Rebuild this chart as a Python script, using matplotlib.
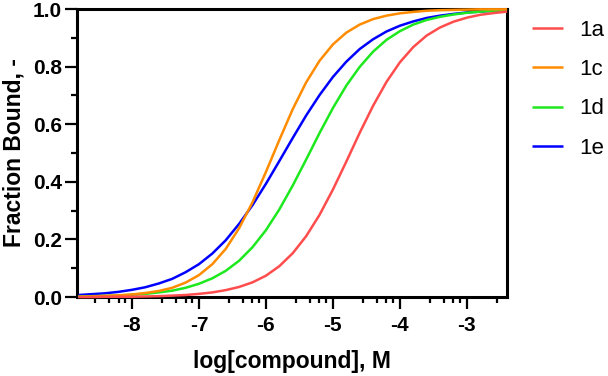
import numpy as np
import matplotlib
matplotlib.use("Agg")
import matplotlib.pyplot as plt
from matplotlib.ticker import FixedLocator

# log[compound] grid the curves were read at
log_conc = [-8.8, -8.6, -8.4, -8.2, -8.0, -7.8, -7.6, -7.4, -7.2, -7.0, -6.8,
            -6.6, -6.4, -6.2, -6.0, -5.8, -5.6, -5.4, -5.2, -5.0, -4.8, -4.6,
            -4.4, -4.2, -4.0, -3.8, -3.6, -3.4, -3.2, -3.0, -2.8, -2.6, -2.4]

# fraction bound
bound_1a = [0.000, 0.000, 0.001, 0.001, 0.001, 0.002, 0.003, 0.005, 0.007, 0.011, 0.016,
            0.024, 0.035, 0.051, 0.074, 0.107, 0.152, 0.211, 0.285, 0.373, 0.470, 0.570,
            0.664, 0.747, 0.815, 0.868, 0.908, 0.936, 0.956, 0.970, 0.980, 0.986, 0.991]
bound_1c = [0.001, 0.002, 0.004, 0.006, 0.009, 0.014, 0.021, 0.032, 0.050, 0.076, 0.114,
            0.167, 0.239, 0.329, 0.434, 0.545, 0.652, 0.745, 0.820, 0.877, 0.918, 0.946,
            0.965, 0.977, 0.985, 0.990, 0.994, 0.996, 0.997, 0.998, 0.999, 0.999, 0.999]
bound_1d = [0.002, 0.003, 0.004, 0.005, 0.008, 0.011, 0.016, 0.022, 0.032, 0.046, 0.065,
            0.091, 0.126, 0.173, 0.232, 0.304, 0.387, 0.477, 0.569, 0.656, 0.734, 0.799,
            0.852, 0.893, 0.923, 0.946, 0.962, 0.973, 0.981, 0.987, 0.991, 0.994, 0.996]
bound_1e = [0.007, 0.010, 0.013, 0.018, 0.025, 0.034, 0.047, 0.063, 0.086, 0.114, 0.151,
            0.197, 0.254, 0.319, 0.393, 0.472, 0.552, 0.630, 0.701, 0.764, 0.817, 0.861,
            0.895, 0.922, 0.942, 0.957, 0.969, 0.977, 0.983, 0.988, 0.991, 0.994, 0.995]

labels = ["1a", "1c", "1d", "1e"]
colors = ["#FF4D4D", "#FF8C00", "#1EE81E", "#0000FF"]
series = [bound_1a, bound_1c, bound_1d, bound_1e]

x_major = [-8, -7, -6, -5, -4, -3]
y_major = [0.0, 0.2, 0.4, 0.6, 0.8, 1.0]

plt.rcParams["font.family"] = ["Liberation Sans", "DejaVu Sans"]

fig = plt.figure(figsize=(6.08, 3.76), dpi=100)
ax = fig.add_axes([0.1266, 0.210, 0.7074, 0.766])

handles = []
# draw last series first so red ends on top, like the original
for i in range(len(series) - 1, -1, -1):
    h, = ax.plot(log_conc, series[i], color=colors[i], lw=1.8, zorder=3,
                 clip_on=False, solid_capstyle="butt")
    handles.append(h)
handles = handles[::-1]

ax.set_xlim(-8.82, -2.4)
ax.set_ylim(0, 1.0)

ax.set_xticks(x_major)
ax.set_xticklabels([str(v) for v in x_major])
minor_x = []
for d in range(-9, -2):
    for f in [0.45, 0.66, 0.80, 0.90]:
        if -8.82 < d + f < -2.4:
            minor_x.append(d + f)
ax.xaxis.set_minor_locator(FixedLocator(minor_x))
ax.set_yticks(y_major)
ax.set_yticklabels(["%.1f" % v for v in y_major])
ax.yaxis.set_minor_locator(FixedLocator([0.1, 0.3, 0.5, 0.7, 0.9]))

for s in ax.spines.values():
    s.set_linewidth(2.2)
ax.tick_params(which="major", length=8.5, width=1.6, labelsize=15, color="black")
ax.tick_params(which="minor", length=4.5, width=1.6, color="black")
ax.tick_params(axis="x", which="major", pad=5)
ax.tick_params(axis="y", which="major", pad=2.5)
for t in ax.get_xticklabels() + ax.get_yticklabels():
    t.set_fontweight("bold")

ax.set_xlabel("log[compound], M", fontsize=16.5, fontweight="bold", labelpad=11)
ax.set_ylabel("Fraction Bound, -", fontsize=16.5, fontweight="bold", labelpad=5)

fig.legend(handles, labels, loc="upper left", bbox_to_anchor=(0.875, 0.947),
           frameon=False, fontsize=16, handlelength=1.4, handletextpad=0.72,
           labelspacing=0.82, borderpad=0, borderaxespad=0)

fig.savefig("out.png", dpi=100)
